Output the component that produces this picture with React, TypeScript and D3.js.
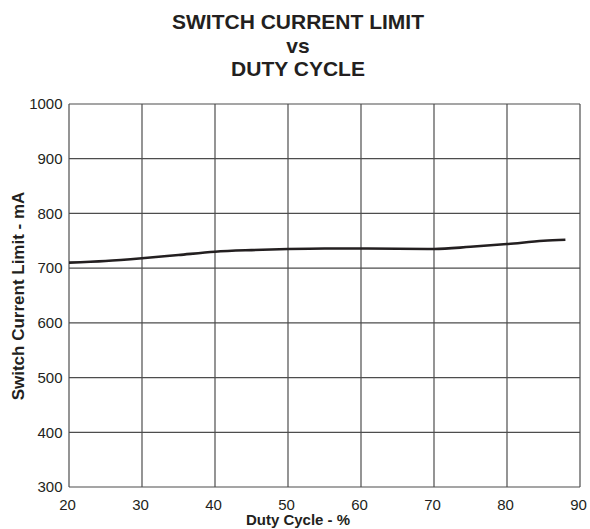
import { useEffect, useRef } from "react";
import * as d3 from "d3";

// Duty cycle (%) and switch current limit (mA)
const dutyCycle = [20, 25, 30, 35, 40, 45, 50, 55, 60, 65, 70, 75, 80, 85, 88];
const currentLimit = [710, 713, 718, 724, 730, 733, 735, 736, 736, 735.5, 735, 739, 744, 750, 752];

const xTicks = [20, 30, 40, 50, 60, 70, 80, 90];
const yTicks = [300, 400, 500, 600, 700, 800, 900, 1000];

const titleLines = ["SWITCH CURRENT LIMIT", "vs", "DUTY CYCLE"];

export default function App() {
  const svgRef = useRef<SVGSVGElement>(null);

  useEffect(() => {
    if (!svgRef.current) return;
    const width = 590;
    const height = 529;
    const margin = { top: 104, right: 10, bottom: 42, left: 69 };
    const font = "'Liberation Sans', Arial, Helvetica, sans-serif";
    const ink = "#231f20";

    const svg = d3.select(svgRef.current);
    svg.selectAll("*").remove();
    svg.attr("width", width).attr("height", height);

    const x = d3
      .scaleLinear()
      .domain([20, 90])
      .range([margin.left, width - margin.right]);
    const y = d3
      .scaleLinear()
      .domain([300, 1000])
      .range([height - margin.bottom, margin.top]);

    // Title
    const titleY = [29, 52.5, 76];
    svg
      .append("g")
      .selectAll("text")
      .data(titleLines)
      .enter()
      .append("text")
      .attr("x", 298)
      .attr("y", (_, i) => titleY[i])
      .attr("text-anchor", "middle")
      .style("font-family", font)
      .style("font-weight", "bold")
      .style("font-size", "21px")
      .style("fill", ink)
      .text((d) => d);

    // Grid
    const grid = svg.append("g");
    grid
      .selectAll("line.v")
      .data(xTicks)
      .enter()
      .append("line")
      .attr("x1", (d) => x(d))
      .attr("x2", (d) => x(d))
      .attr("y1", y(300))
      .attr("y2", y(1000))
      .style("stroke", "#4d4d4d")
      .style("stroke-width", "1.2px");
    grid
      .selectAll("line.h")
      .data(yTicks)
      .enter()
      .append("line")
      .attr("x1", x(20))
      .attr("x2", x(90))
      .attr("y1", (d) => y(d))
      .attr("y2", (d) => y(d))
      .style("stroke", "#4d4d4d")
      .style("stroke-width", "1.2px");

    // Tick labels
    svg
      .append("g")
      .selectAll("text")
      .data(xTicks)
      .enter()
      .append("text")
      .attr("x", (d) => Math.min(x(d) - 1.5, width - 7))
      .attr("y", 509.5)
      .attr("text-anchor", "middle")
      .style("font-family", font)
      .style("font-size", "15px")
      .style("fill", ink)
      .text((d) => d);

    svg
      .append("g")
      .selectAll("text")
      .data(yTicks)
      .enter()
      .append("text")
      .attr("x", x(20) - 6.5)
      .attr("y", (d) => y(d))
      .attr("dy", "0.35em")
      .attr("text-anchor", "end")
      .style("font-family", font)
      .style("font-size", "15px")
      .style("fill", ink)
      .text((d) => d);

    // Axis titles
    svg
      .append("text")
      .attr("x", 298)
      .attr("y", 525)
      .attr("text-anchor", "middle")
      .style("font-family", font)
      .style("font-weight", "bold")
      .style("font-size", "15px")
      .style("fill", ink)
      .text("Duty Cycle - %");

    svg
      .append("text")
      .attr("transform", `translate(24, 296) rotate(-90)`)
      .attr("text-anchor", "middle")
      .style("font-family", font)
      .style("font-weight", "bold")
      .style("font-size", "17px")
      .style("fill", ink)
      .text("Switch Current Limit - mA");

    // Curve
    const line = d3
      .line<number>()
      .x((_, i) => x(dutyCycle[i]))
      .y((d) => y(d))
      .curve(d3.curveMonotoneX);

    svg
      .append("path")
      .datum(currentLimit)
      .attr("d", line)
      .style("fill", "none")
      .style("stroke", ink)
      .style("stroke-width", "2.6px");
  }, []);

  return (
    <div style={{ position: "fixed", left: 0, top: 0, width: 590, height: 529, overflow: "hidden" }}>
      <svg ref={svgRef} style={{ display: "block", background: "#fff" }} />
    </div>
  );
}
